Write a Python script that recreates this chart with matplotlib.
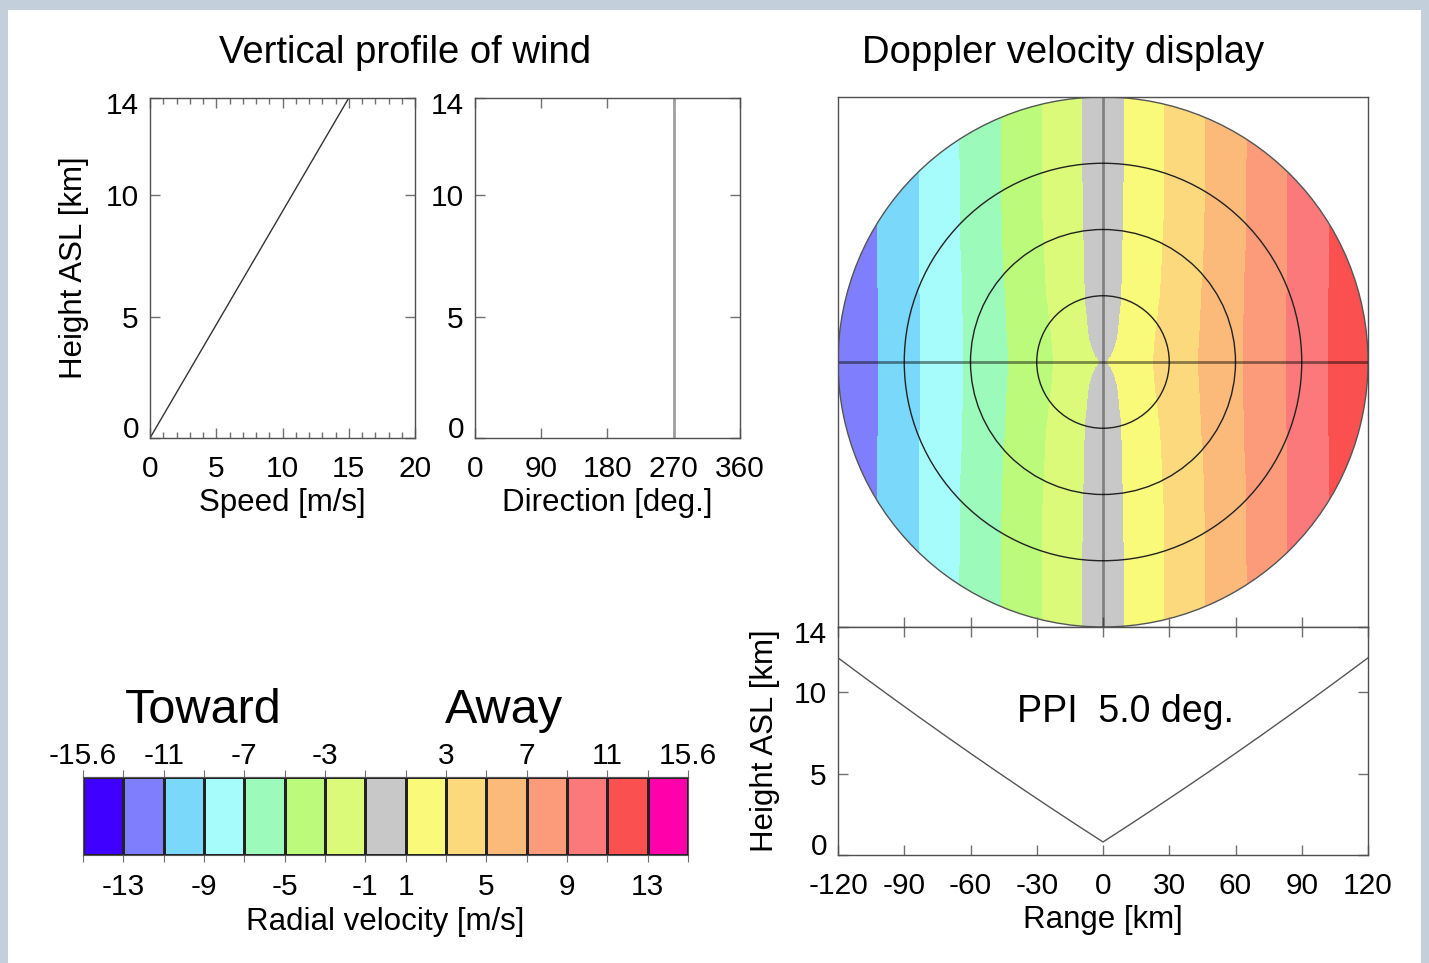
import numpy as np
import matplotlib
matplotlib.use("Agg")
import matplotlib.pyplot as plt
from matplotlib.colors import ListedColormap, BoundaryNorm
from matplotlib.patches import Circle, Rectangle
from matplotlib.ticker import MultipleLocator
from matplotlib.transforms import ScaledTranslation

plt.rcParams['font.family'] = ['Liberation Sans', 'DejaVu Sans']
plt.rcParams['axes.unicode_minus'] = False

# wind profile
profile_height_km = [0.0, 14.0]
profile_speed_ms = [0.0, 15.0]
profile_dir_deg = [270.0, 270.0]

# radar scan
elevation_deg = 5.0
radar_height_km = 0.8
max_range_km = 120.0
ring_radii_km = [30, 60, 90]

# colour scale of radial velocity
vr_bounds = [-15.6, -13, -11, -9, -7, -5, -3, -1, 1, 3, 5, 7, 9, 11, 13, 15.6]
vr_colors = ['#4000ff', '#7f7ffd', '#7ad8fa', '#a6fbfb', '#9cfaba', '#bbfa7a',
             '#dbfa7a', '#c8c8c8', '#fafa7a', '#fbd97c', '#fbba7a', '#fb9b79',
             '#fb797a', '#fb5050', '#ff00aa']
top_labels = ['-15.6', '', '-11', '', '-7', '', '-3', '', '', '3', '', '7', '', '11', '', '15.6']
bot_labels = ['', '-13', '', '-9', '', '-5', '', '-1', '1', '', '5', '', '9', '', '13', '']

W, H = 1429, 963
fig = plt.figure(figsize=(W / 100, H / 100), dpi=100, facecolor='#c3d0dc')
fig.patches.append(Rectangle((8 / W, 0), (W - 16) / W, (H - 10) / H, transform=fig.transFigure,
                             facecolor='white', edgecolor='none', zorder=-10))


def box(x0, y0, x1, y1):
    return [x0 / W, 1 - y1 / H, (x1 - x0) / W, (y1 - y0) / H]


TICK = 21.5
LAB = 22.5
spine_col = '#505050'


def style(ax):
    for s in ax.spines.values():
        s.set_color(spine_col)
        s.set_linewidth(1.0)
    ax.tick_params(direction='in', top=True, right=True, labelsize=TICK, length=7,
                   color='#707070', width=1)
    ax.tick_params(axis='x', pad=12)
    ax.tick_params(axis='y', pad=8)
    ax.tick_params(which='minor', direction='in', top=True, right=True, length=4,
                   color='#707070', width=1)


def nudge_ylabels(ax):
    # end labels sit a little inside the axis, as in the original
    labs = ax.get_yticklabels()
    shifts = {0: 11, len(labs) - 1: -5}
    for i, dy in shifts.items():
        labs[i].set_transform(labs[i].get_transform() + ScaledTranslation(0, dy / 100, fig.dpi_scale_trans))


def beam_height(r):
    r = np.abs(r)
    el = np.deg2rad(elevation_deg)
    return radar_height_km + r * np.sin(el) + r ** 2 / (2 * 4 / 3 * 6371.0)


# speed profile
ax1 = fig.add_axes(box(150, 98, 415, 438))
ax1.plot(profile_speed_ms, profile_height_km, color='#333333', lw=1)
ax1.set_xlim(0, 20)
ax1.set_ylim(0, 14)
ax1.set_xticks([0, 5, 10, 15, 20])
ax1.xaxis.set_minor_locator(MultipleLocator(1))
ax1.set_yticks([0, 5, 10, 14])
style(ax1)
nudge_ylabels(ax1)
ax1.set_xlabel('Speed [m/s]', fontsize=LAB, labelpad=4)
ax1.set_ylabel('Height ASL [km]', fontsize=LAB, labelpad=12)

# direction profile
ax2 = fig.add_axes(box(475, 98, 740, 438))
ax2.plot(profile_dir_deg, profile_height_km, color='#a0a0a0', lw=2)
ax2.set_xlim(0, 360)
ax2.set_ylim(0, 14)
ax2.set_xticks([0, 90, 180, 270, 360])
ax2.set_yticks([0, 5, 10, 14])
style(ax2)
nudge_ylabels(ax2)
ax2.set_xlabel('Direction [deg.]', fontsize=LAB, labelpad=4)

fig.text(405 / W, 1 - 53 / H, 'Vertical profile of wind', fontsize=27.5, ha='center', va='center')
fig.text(1063 / W, 1 - 53 / H, 'Doppler velocity display', fontsize=27.5, ha='center', va='center')

# PPI of radial velocity
cmap = ListedColormap(vr_colors)
norm = BoundaryNorm(vr_bounds, cmap.N)

ax3 = fig.add_axes(box(838, 97, 1368, 627))
n = 900
xs = np.linspace(-max_range_km, max_range_km, n)
X, Y = np.meshgrid(xs, xs)
R = np.hypot(X, Y)
hgt = beam_height(R)
spd = np.interp(hgt, profile_height_km, profile_speed_ms)
wdir = np.deg2rad(np.interp(hgt, profile_height_km, profile_dir_deg))
u = -spd * np.sin(wdir)
v = -spd * np.cos(wdir)
Rs = np.where(R == 0, 1e-6, R)
vr = (u * X / Rs + v * Y / Rs) * np.cos(np.deg2rad(elevation_deg))
vr = np.ma.masked_where(R > max_range_km + 1, vr)
im = ax3.imshow(vr, origin='lower', extent=[-max_range_km, max_range_km, -max_range_km, max_range_km],
                cmap=cmap, norm=norm, interpolation='nearest')
edge = Circle((0, 0), max_range_km, facecolor='none', edgecolor='#555555', lw=1)
ax3.add_patch(edge)
im.set_clip_path(edge)
for rr in ring_radii_km:
    ax3.add_patch(Circle((0, 0), rr, facecolor='none', edgecolor='#222222', lw=1))
ax3.plot([-max_range_km, max_range_km], [0, 0], color='black', alpha=0.45, lw=2)
ax3.plot([0, 0], [-max_range_km, max_range_km], color='black', alpha=0.35, lw=2)
ax3.set_xlim(-max_range_km, max_range_km)
ax3.set_ylim(-max_range_km, max_range_km)
ax3.set_xticks(np.arange(-90, 91, 30))
ax3.set_yticks([])
style(ax3)
ax3.tick_params(top=False, right=False, labelbottom=False)

# beam height versus range
ax4 = fig.add_axes(box(838, 627, 1368, 855))
rng = np.linspace(-max_range_km, max_range_km, 481)
ax4.plot(rng, beam_height(rng), color='#555555', lw=1)
ax4.set_xlim(-max_range_km, max_range_km)
ax4.set_ylim(0, 14)
ax4.set_xticks(np.arange(-120, 121, 30))
ax4.set_yticks([0, 5, 10, 14])
style(ax4)
nudge_ylabels(ax4)
ax4.set_xlabel('Range [km]', fontsize=LAB, labelpad=4)
ax4.set_ylabel('Height ASL [km]', fontsize=LAB, labelpad=10)
ax4.text(0.543, 0.625, 'PPI  %.1f deg.' % elevation_deg, transform=ax4.transAxes,
         fontsize=27, ha='center', va='center')

# colour bar
ax5 = fig.add_axes(box(83, 777, 688, 855))
ax5.pcolormesh(np.arange(16), [0, 1], np.arange(15).reshape(1, 15), cmap=cmap,
               vmin=-0.5, vmax=14.5, edgecolors='#222222', linewidth=0.8)
ax5.set_xlim(0, 15)
ax5.set_ylim(0, 1)
ax5.set_yticks([])
ax5.set_xticks(range(16), labels=bot_labels)
ax5.tick_params(axis='x', direction='out', length=5, color='#707070', labelsize=TICK, pad=8)
top = ax5.secondary_xaxis('top')
top.set_xticks(range(16), labels=top_labels)
top.tick_params(axis='x', direction='out', length=5, color='#707070', labelsize=TICK, pad=0)
for s in list(ax5.spines.values()) + list(top.spines.values()):
    s.set_color('#555555')
ax5.set_xlabel('Radial velocity [m/s]', fontsize=LAB, labelpad=4)
fig.text(203 / W, 1 - 710 / H, 'Toward', fontsize=35, ha='center', va='center')
fig.text(504 / W, 1 - 710 / H, 'Away', fontsize=35, ha='center', va='center')

fig.savefig('out.png', dpi=100, facecolor=fig.get_facecolor())
